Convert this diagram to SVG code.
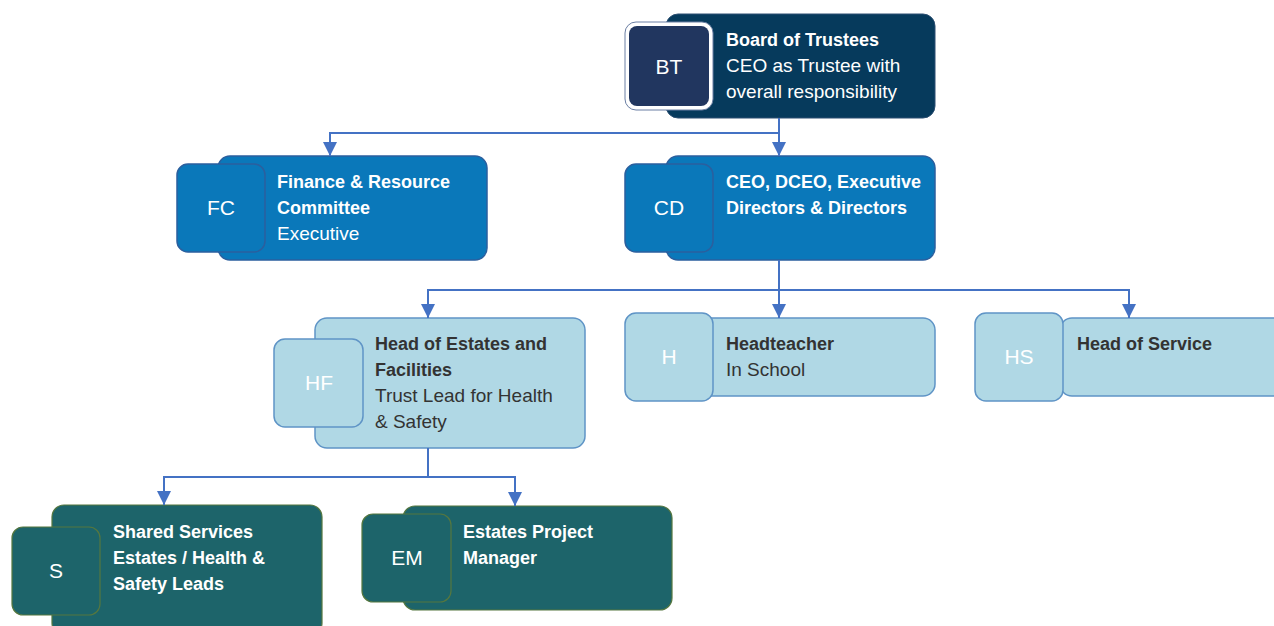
<svg xmlns="http://www.w3.org/2000/svg" width="1274" height="626" viewBox="0 0 1274 626">
<defs>
<marker id="arr" markerUnits="userSpaceOnUse" markerWidth="14" markerHeight="14" refX="14" refY="7" orient="auto">
<path d="M0,0 L14,7 L0,14 z" fill="#4472c4"/>
</marker>
<style>
.t{font-family:"Liberation Sans",Arial,sans-serif;font-size:19px}
.b{font-weight:bold;font-size:18px}
.badge{font-family:"Liberation Sans",Arial,sans-serif;font-size:21px;text-anchor:middle}
.w{fill:#ffffff}
.d{fill:#333333}
.navy{fill:#063a5c;stroke:#2c4f72;stroke-width:1}
.blue{fill:#0a78ba;stroke:#2b5f9e;stroke-width:1.5}
.light{fill:#b0d8e5;stroke:#5f94c6;stroke-width:1.5}
.teal{fill:#1d646a;stroke:#55773f;stroke-width:1.2}
.conn{fill:none;stroke:#4472c4;stroke-width:2;marker-end:url(#arr)}
</style>
</defs>
<rect width="1274" height="626" fill="#ffffff"/>

<g id="node-BT">
<rect class="navy" x="666" y="14" width="269" height="104" rx="12"/>
<rect x="625" y="22" width="88" height="88" rx="11" fill="#ffffff" stroke="#6a7ea3" stroke-width="1"/>
<rect x="629" y="26" width="80" height="80" rx="8" fill="#21365f"/>
<text class="badge w" x="669" y="74">BT</text>
<text class="t b w" x="726" y="46">Board of Trustees</text>
<text class="t w" x="726" y="72">CEO as Trustee with</text>
<text class="t w" x="726" y="98">overall responsibility</text>
</g>

<g id="node-FC">
<rect class="blue" x="218" y="156" width="269" height="104" rx="12"/>
<rect class="blue" x="177" y="164" width="88" height="88" rx="11"/>
<text class="badge w" x="221" y="215">FC</text>
<text class="t b w" x="277" y="188">Finance &amp; Resource</text>
<text class="t b w" x="277" y="214">Committee</text>
<text class="t w" x="277" y="240">Executive</text>
</g>

<g id="node-CD">
<rect class="blue" x="666" y="156" width="269" height="104" rx="12"/>
<rect class="blue" x="625" y="164" width="88" height="88" rx="11"/>
<text class="badge w" x="669" y="215">CD</text>
<text class="t b w" x="726" y="188">CEO, DCEO, Executive</text>
<text class="t b w" x="726" y="214">Directors &amp; Directors</text>
</g>

<g id="node-HF">
<rect class="light" x="315" y="318" width="270" height="130" rx="12"/>
<rect class="light" x="274" y="339" width="89" height="88" rx="11"/>
<text class="badge w" x="319" y="390">HF</text>
<text class="t b d" x="375" y="350">Head of Estates and</text>
<text class="t b d" x="375" y="376">Facilities</text>
<text class="t d" x="375" y="402">Trust Lead for Health</text>
<text class="t d" x="375" y="428">&amp; Safety</text>
</g>

<g id="node-H">
<rect class="light" x="666" y="318" width="269" height="78" rx="12"/>
<rect class="light" x="625" y="313" width="88" height="88" rx="11"/>
<text class="badge w" x="669" y="364">H</text>
<text class="t b d" x="726" y="350">Headteacher</text>
<text class="t d" x="726" y="376">In School</text>
</g>

<g id="node-HS">
<rect class="light" x="1060" y="318" width="269" height="78" rx="12"/>
<rect class="light" x="975" y="313" width="88" height="88" rx="11"/>
<text class="badge w" x="1019" y="364">HS</text>
<text class="t b d" x="1077" y="350">Head of Service</text>
</g>

<g id="node-S">
<rect class="teal" x="52" y="505" width="270" height="130" rx="12"/>
<rect class="teal" x="12" y="527" width="88" height="88" rx="11"/>
<text class="badge w" x="56" y="578">S</text>
<text class="t b w" x="113" y="538">Shared Services</text>
<text class="t b w" x="113" y="564">Estates / Health &amp;</text>
<text class="t b w" x="113" y="590">Safety Leads</text>
</g>

<g id="node-EM">
<rect class="teal" x="403" y="506" width="269" height="104" rx="12"/>
<rect class="teal" x="362" y="514" width="89" height="88" rx="11"/>
<text class="badge w" x="407" y="565">EM</text>
<text class="t b w" x="463" y="538">Estates Project</text>
<text class="t b w" x="463" y="564">Manager</text>
</g>

<g id="connectors">
<path class="conn" d="M779,118 V156"/>
<path class="conn" d="M779,133 H330 V156"/>
<path class="conn" d="M779,260 V318"/>
<path class="conn" d="M779,290 H428 V318"/>
<path class="conn" d="M779,290 H1129 V318"/>
<path class="conn" d="M428,448 V477 H164 V505"/>
<path class="conn" d="M428,477 H515 V506"/>
</g>
</svg>
